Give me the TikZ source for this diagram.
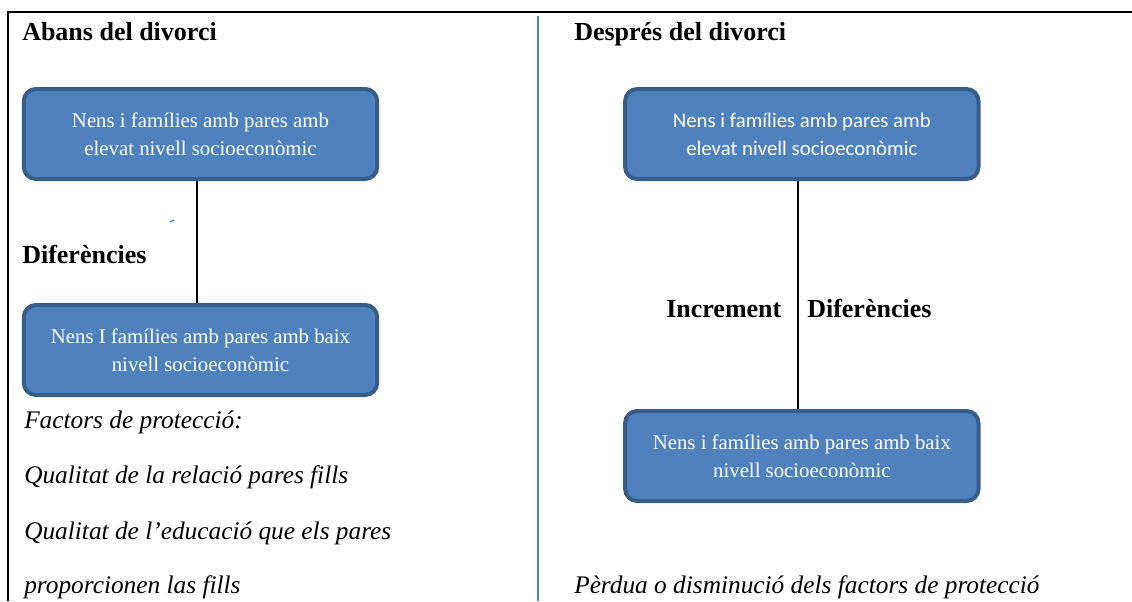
\documentclass[tikz,border=0pt]{standalone}
\usepackage{fontspec}
\setmainfont{Liberation Serif}
\newfontfamily\calibrifont{Carlito}
\usepackage{xcolor}
\usetikzlibrary{shapes,arrows,positioning}
\definecolor{boxfill}{HTML}{4F81BD}
\definecolor{boxline}{HTML}{385D8A}

\begin{document}
\begin{tikzpicture}[x=0.75pt, y=-0.75pt, node distance = 2cm, auto]
	\tikzstyle{block} = [rectangle, draw=boxline, fill=boxfill, line width=3pt,
	text=white, align=center, rounded corners=9pt, inner sep=0pt,
	minimum width=265pt, minimum height=67.5pt, font=\rmfamily\fontsize{15.6}{21}\selectfont]
	\tikzstyle{line} = [draw, line width=1.1pt]
	\tikzstyle{title} = [anchor=base west, inner sep=0pt, font=\rmfamily\fontsize{19.5}{23}\selectfont\bfseries]
	\tikzstyle{note} = [anchor=base west, inner sep=0pt, font=\rmfamily\fontsize{19}{23}\selectfont\itshape]
	\useasboundingbox (0,0) rectangle (1132,601);
	% Frame
	\draw [line width=1.5pt] (8,601) -- (8,12) -- (1132,12);
	\draw [boxfill, line width=1.2pt] (538,16) -- (538,601);
	\draw [boxfill, line width=1pt] (170,222) -- (174,220);
	% Place nodes
	\node [title] (abans) at (22,40) {Abans del divorci};
	\node [title] (despres) at (574,40) {Després del divorci};
	\node [block] (alt1) at (200.5,134) {Nens i famílies amb pares amb\\elevat nivell socioeconòmic};
	\node [block, below of=alt1, node distance = 162pt] (baix1) {Nens I famílies amb pares amb baix\\nivell socioeconòmic};
	\node [block, right of=alt1, node distance = 451pt] (alt2) {\calibrifont Nens i famílies amb pares amb\\\calibrifont elevat nivell socioeconòmic};
	\node [block, below of=alt2, node distance = 241.5pt] (baix2) {Nens i famílies amb pares amb baix\\nivell socioeconòmic};
	\node [title] (dif1) at (22,263) {Diferències};
	\node [title] (incr) at (666,317) {Increment};
	\node [title] (dif2) at (807,317) {Diferències};
	\node [note] (fact) at (24,428) {Factors de protecció:};
	\node [note] (qual1) at (24,483) {Qualitat de la relació pares fills};
	\node [note] (qual2) at (24,539) {Qualitat de l’educació que els pares};
	\node [note] (prop) at (24,593) {proporcionen las fills};
	\node [note] (perdua) at (574,593) {Pèrdua o disminució dels factors de protecció};
	% Draw edges
	\path [line] ([xshift=-2.6pt]alt1.south) -- ([xshift=-2.6pt]alt1.south |- baix1.north);
	\path [line] ([xshift=-3pt]alt2.south) -- ([xshift=-3pt]alt2.south |- baix2.north);
\end{tikzpicture}
\end{document}
